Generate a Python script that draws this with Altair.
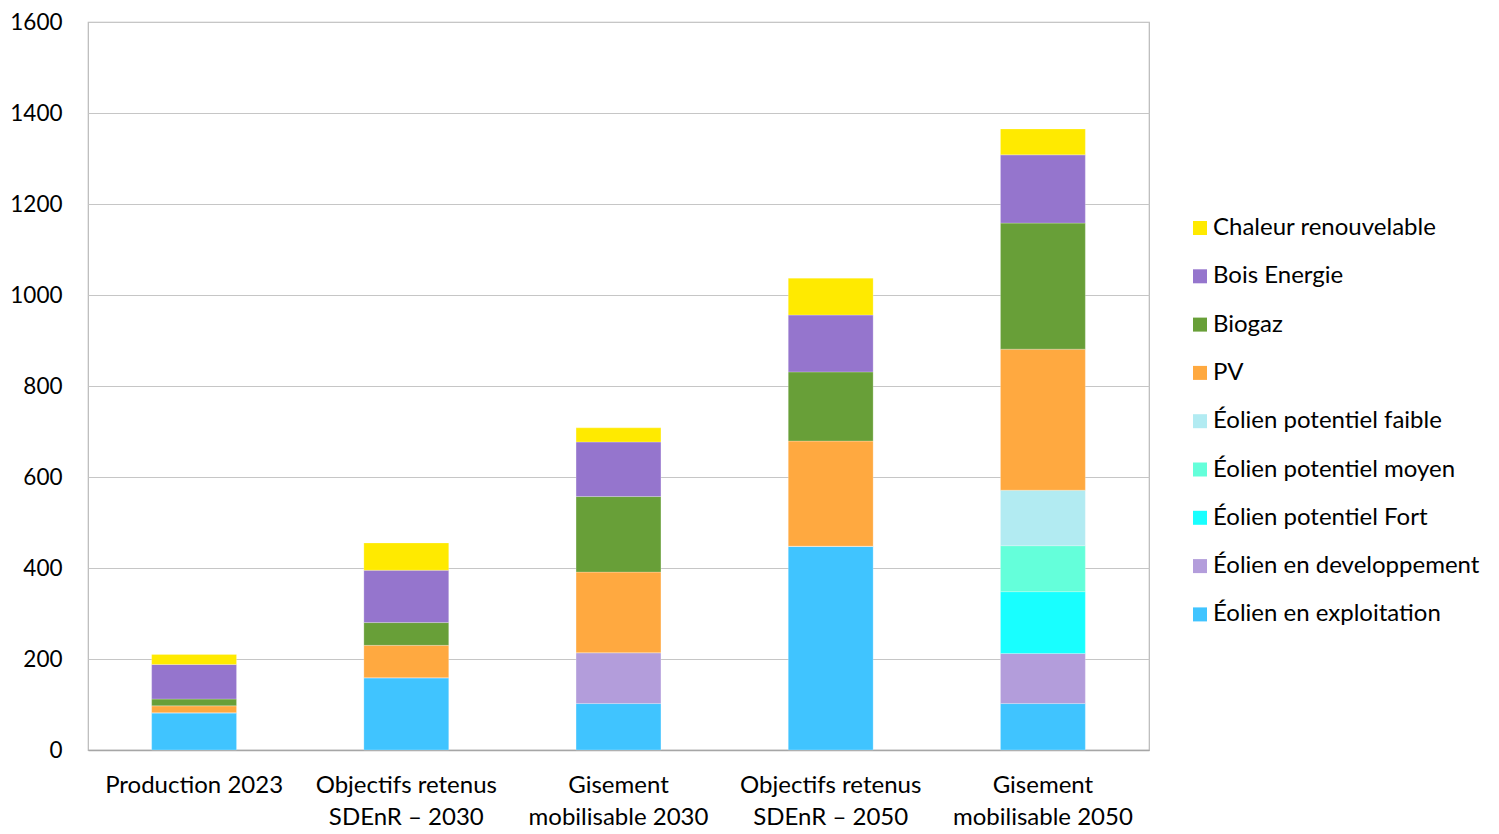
import altair as alt
import pandas as pd

categories = ["Production 2023", "Objectifs retenus|SDEnR – 2030", "Gisement|mobilisable 2030",
              "Objectifs retenus|SDEnR – 2050", "Gisement|mobilisable 2050"]

# series listed bottom-to-top of the stack
series = ["Éolien en exploitation", "Éolien en developpement", "Éolien potentiel Fort",
          "Éolien potentiel moyen", "Éolien potentiel faible", "PV", "Biogaz",
          "Bois Energie", "Chaleur renouvelable"]

values = {
    "Éolien en exploitation":  [82, 159, 102, 448, 102],
    "Éolien en developpement": [0, 0, 112, 0, 110],
    "Éolien potentiel Fort":   [0, 0, 0, 0, 136],
    "Éolien potentiel moyen":  [0, 0, 0, 0, 101],
    "Éolien potentiel faible": [0, 0, 0, 0, 122],
    "PV":                      [15, 71, 177, 231, 310],
    "Biogaz":                  [15, 50, 166, 152, 277],
    "Bois Energie":            [76, 115, 120, 125, 150],
    "Chaleur renouvelable":    [22, 60, 31, 81, 57],
}

colors = {
    "Éolien en exploitation": "#40c4ff",
    "Éolien en developpement": "#b39ddb",
    "Éolien potentiel Fort": "#18ffff",
    "Éolien potentiel moyen": "#64ffda",
    "Éolien potentiel faible": "#b2ebf2",
    "PV": "#ffa940",
    "Biogaz": "#689f38",
    "Bois Energie": "#9575cd",
    "Chaleur renouvelable": "#ffea00",
}

rows = []
for si, s in enumerate(series):
    for ci, c in enumerate(categories):
        rows.append({"cat": c, "serie": s, "val": values[s][ci], "ord": si})
df = pd.DataFrame(rows)

legend_order = list(reversed(series))
FONT = "Lato"
FS = 24

chart = alt.Chart(df).mark_bar(stroke="white", strokeWidth=0.4, strokeOpacity=0.6).encode(
    x=alt.X("cat:N", sort=categories, title=None,
            scale=alt.Scale(paddingInner=0.6, paddingOuter=0.3),
            axis=alt.Axis(labelExpr="split(datum.label, '|')", labelAngle=0,
                          labelFontSize=FS, labelFont=FONT, labelColor="#000000",
                          labelPadding=23, labelLineHeight=32, ticks=False, labelLimit=300,
                          domainColor="#a6a6a6", domainWidth=1.5, labelBaseline="top")),
    y=alt.Y("val:Q", stack="zero", title=None,
            scale=alt.Scale(domain=[0, 1600], nice=False),
            axis=alt.Axis(values=list(range(0, 1601, 200)), ticks=False, domain=False, format="d",
                          labelFontSize=22.5, labelFont=FONT, labelColor="#000000",
                          labelPadding=26, gridColor="#c6c6c6", gridWidth=1)),
    color=alt.Color("serie:N", title=None,
                    scale=alt.Scale(domain=legend_order, range=[colors[s] for s in legend_order]),
                    legend=alt.Legend(orient="none", legendX=1100, legendY=194,
                                      symbolType="square", symbolSize=196, symbolStrokeWidth=0,
                                      labelFontSize=FS, labelFont=FONT, labelColor="#000000",
                                      rowPadding=24.3, labelOffset=1, labelLimit=400)),
    order=alt.Order("ord:Q", sort="ascending"),
).properties(
    width=1061, height=728,
    autosize=alt.AutoSizeParams(type="none"),
    padding={"left": 80, "top": 14, "right": 340, "bottom": 80},
).configure_view(stroke="#b8b8b8", strokeWidth=1.2)

chart.save("out.html", embed_options={"renderer": "svg", "actions": False})
